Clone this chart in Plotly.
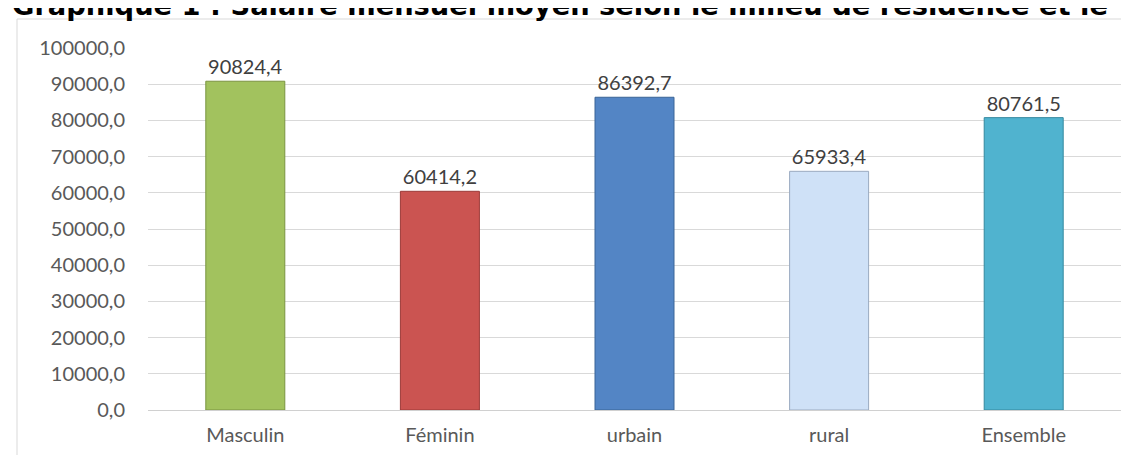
import plotly.graph_objects as go

# Données
categories = ["Masculin", "Féminin", "urbain", "rural", "Ensemble"]
salaires = [90824.4, 60414.2, 86392.7, 65933.4, 80761.5]
couleurs = ["#A2C25E", "#CB5451", "#5385C5", "#CFE1F7", "#50B3CF"]
bordures = ["#7A9440", "#9C3B39", "#3A6497", "#9AAAC0", "#34899F"]
y_ticks = [0, 10000, 20000, 30000, 40000, 50000, 60000, 70000, 80000, 90000, 100000]

W, H = 1129, 455
ML, MR, MT, MB = 140, 16, 40, 53
PW, PH = W - ML - MR, H - MT - MB


def px_x(px):
    return (px - ML) / PW


def px_y(py):
    return (H - MB - py) / PH


fig = go.Figure()
fig.add_trace(go.Bar(
    x=categories, y=salaires,
    marker=dict(color=couleurs, line=dict(color=bordures, width=1)),
    texttemplate="%{y:.1f}", textposition="outside", cliponaxis=False,
    textfont=dict(family="Lato", size=20, color="#404040"),
    hoverinfo="skip",
))

# cadre du graphique (seuls les bords gauche et haut sont visibles)
fig.add_shape(
    type="rect", xref="paper", yref="paper",
    x0=px_x(9), x1=px_x(W + 10), y0=px_y(H + 10), y1=px_y(11),
    line=dict(color="#D9D9D9", width=1), layer="below",
)

# titre coupé en haut de l'image, comme sur l'original (s'arrête au bord droit)
fig.add_annotation(
    text="<b>Graphique 1 : Salaire mensuel moyen selon le milieu de résidence et le</b>",
    xref="paper", yref="paper", x=px_x(2), y=px_y(15),
    xanchor="left", yanchor="bottom", showarrow=False,
    font=dict(family="DejaVu Sans", size=27.3, color="#000000"),
)

fig.update_layout(
    width=W, height=H,
    margin=dict(l=ML, r=MR, t=MT, b=MB),
    paper_bgcolor="white", plot_bgcolor="white",
    separators=", ",
    bargap=0.594,
    showlegend=False,
    xaxis=dict(
        showgrid=False, showline=False, ticks="", ticklabelstandoff=11,
        tickfont=dict(family="Lato", size=20, color="#595959"),
    ),
    yaxis=dict(
        range=[0, 100000], tickvals=y_ticks, tickformat=".1f",
        showgrid=True, gridcolor="#D9D9D9", gridwidth=1,
        zeroline=True, zerolinecolor="#D0D0D0", zerolinewidth=1,
        showline=False, ticks="", ticklabelstandoff=22,
        tickfont=dict(family="Lato", size=20, color="#595959"),
    ),
)

fig.write_html("out.html")
